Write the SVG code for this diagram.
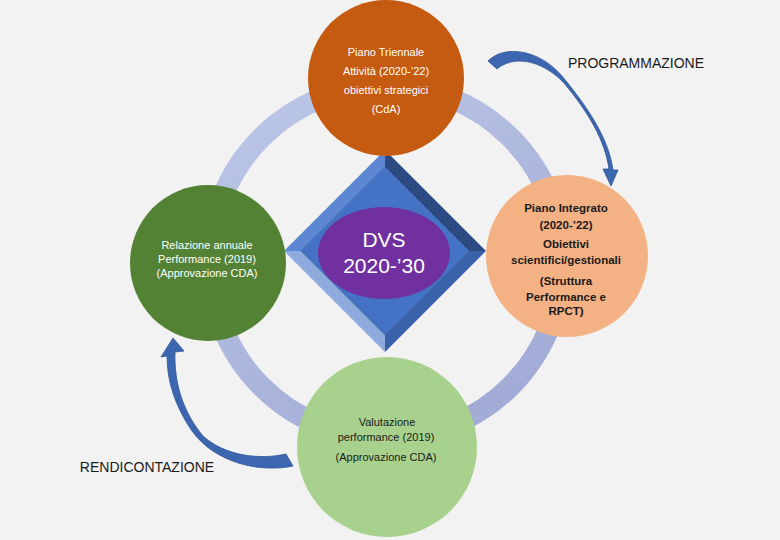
<svg xmlns="http://www.w3.org/2000/svg" width="780" height="540" viewBox="0 0 780 540">
<defs>
<style>
.t{font-family:"Liberation Sans",Arial,sans-serif;text-anchor:middle}
.w{fill:#ffffff}
.d{fill:#1a1a1a}
.b{font-weight:bold}
.arrow{fill:#3d66b0;stroke:#2f5597;stroke-width:0.8}
</style>
<linearGradient id="ringGrad" x1="0" y1="0" x2="0.6" y2="1">
<stop offset="0" stop-color="#bcc8e8"/>
<stop offset="1" stop-color="#a3acd6"/>
</linearGradient>
</defs>
<rect width="780" height="540" fill="#f2f2f2"/>
<g id="ring">
<circle cx="386" cy="262" r="176" fill="none" stroke="url(#ringGrad)" stroke-width="21"/>
</g>
<g id="diamond">
<polygon points="385,150 284,251 301,251 385,167" fill="#5d87d2"/>
<polygon points="385,150 486,251 469,251 385,167" fill="#2c4a82"/>
<polygon points="284,251 385,352 385,335 301,251" fill="#8faadc"/>
<polygon points="486,251 385,352 385,335 469,251" fill="#3a62ab"/>
<polygon points="385,167 469,251 385,335 301,251" fill="#4472c4" stroke="#2f5597" stroke-width="0.6"/>
<ellipse cx="384" cy="253" rx="66" ry="46" fill="#7030a0"/>
<text class="t w" x="384" y="247" font-size="21">DVS</text>
<text class="t w" x="384" y="273" font-size="21">2020-’30</text>
</g>
<g id="connectors">
<path class="arrow" d="M488,61 C505,44 540,50 562,76 C590,110 609,140 613,170 L618,170 L611,186 L603,169 L609,169 C605,140 588,112 564,83 C540,58 512,56 497,69 Z"/>
<path class="arrow" d="M293,466 C260,473 215,463 192,431 C175,406 167,381 167,356 L161,357 L173,338 L184,351 L175,352 C174,385 184,413 203,436 C225,456 260,460 286,454 Z"/>
</g>
<g id="node-top">
<circle cx="386" cy="78" r="78" fill="#c55a11"/>
<text class="t w" x="386" y="56" font-size="11">Piano Triennale</text>
<text class="t w" x="386" y="75" font-size="11">Attività (2020-’22)</text>
<text class="t w" x="386" y="94" font-size="11">obiettivi strategici</text>
<text class="t w" x="386" y="113" font-size="11">(CdA)</text>
</g>
<g id="node-right">
<circle cx="567" cy="256" r="81" fill="#f4b183"/>
<text class="t d b" x="566" y="212" font-size="11.5">Piano Integrato</text>
<text class="t d b" x="566" y="229" font-size="11.5">(2020-’22)</text>
<text class="t d b" x="566" y="248" font-size="11.5">Obiettivi</text>
<text class="t d b" x="566" y="264" font-size="11.5">scientifici/gestionali</text>
<text class="t d b" x="566" y="285" font-size="11.5">(Struttura</text>
<text class="t d b" x="566" y="301" font-size="11.5">Performance e</text>
<text class="t d b" x="566" y="315" font-size="11.5">RPCT)</text>
</g>
<g id="node-left">
<circle cx="208" cy="263" r="78" fill="#548235"/>
<text class="t w" x="207" y="249" font-size="11">Relazione annuale</text>
<text class="t w" x="207" y="263" font-size="11">Performance (2019)</text>
<text class="t w" x="207" y="277" font-size="11">(Approvazione CDA)</text>
</g>
<g id="node-bottom">
<circle cx="387" cy="447" r="90" fill="#a9d18e"/>
<text class="t d" x="387" y="426" font-size="11">Valutazione</text>
<text class="t d" x="386" y="441" font-size="11">performance (2019)</text>
<text class="t d" x="386" y="461" font-size="11">(Approvazione CDA)</text>
</g>
<g id="labels">
<text class="t d" x="636" y="68" font-size="14">PROGRAMMAZIONE</text>
<text class="t d" x="147" y="472" font-size="14">RENDICONTAZIONE</text>
</g>
</svg>
